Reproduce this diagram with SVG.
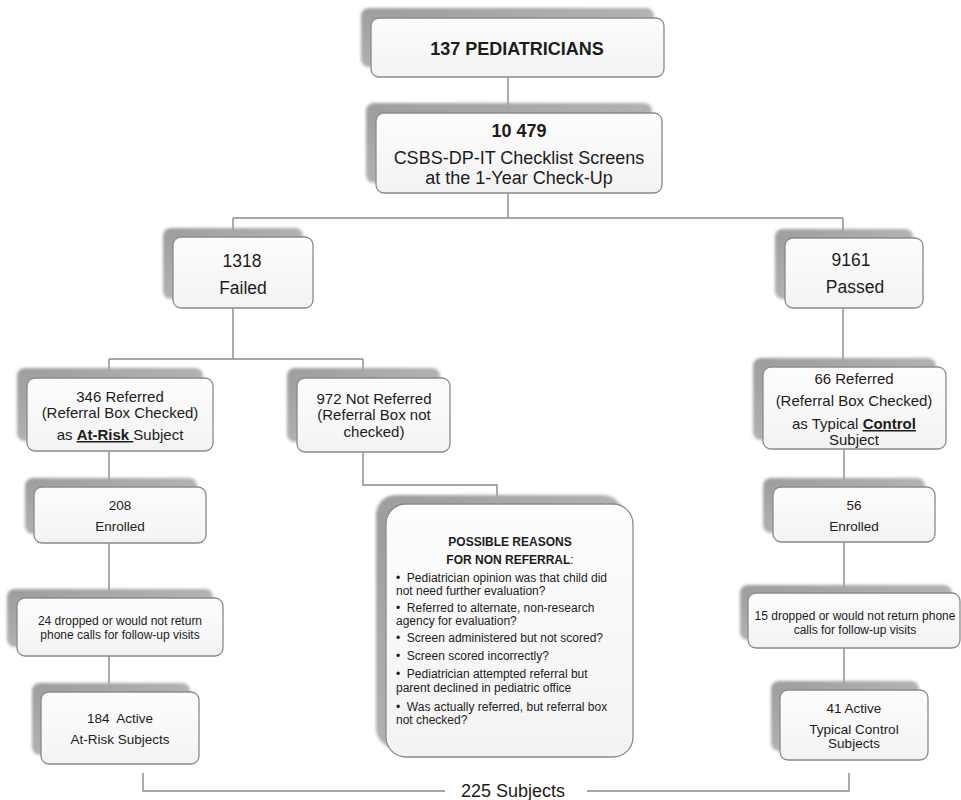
<svg xmlns="http://www.w3.org/2000/svg" width="961" height="800" viewBox="0 0 961 800">
<defs>
<linearGradient id="sg" x1="0" y1="0" x2="1" y2="1">
<stop offset="0" stop-color="#9c9c9c"/>
<stop offset="0.6" stop-color="#b4b4b4"/>
<stop offset="1" stop-color="#d6d6d6"/>
</linearGradient>
<linearGradient id="bg" x1="0" y1="0" x2="0" y2="1">
<stop offset="0" stop-color="#fdfdfd"/>
<stop offset="1" stop-color="#f3f3f3"/>
</linearGradient>
<filter id="blur" x="-10%" y="-10%" width="120%" height="120%">
<feGaussianBlur stdDeviation="1.5"/>
</filter>
</defs>
<style>
.sh{fill:url(#sg);filter:url(#blur);}
.bx{fill:url(#bg);stroke:#8a8a8a;stroke-width:1.3;}
.cn{fill:none;stroke:#8a8a8a;stroke-width:1.4;}
text{font-family:"Liberation Sans",Arial,sans-serif;fill:#1c1c1c;}
.c{text-anchor:middle;}
.b{font-weight:bold;}
.f18{font-size:18px;}
.f17{font-size:17.5px;}
.f15{font-size:15px;}
.f13{font-size:13.5px;}
.f12{font-size:12px;}
</style>
<rect width="961" height="800" fill="#ffffff"/>
<g id="connectors">
<path class="cn" d="M508,77 V113"/>
<path class="cn" d="M508,193 V218 M233,218 H843 M233,218 V237 M843,218 V238"/>
<path class="cn" d="M233,308 V359 M109,359 H363 M109,359 V378 M363,359 V378"/>
<path class="cn" d="M363,452 V485 H497 V504"/>
<path class="cn" d="M109,451 V487 M109,543 V598 M109,656 V692"/>
<path class="cn" d="M843,308 V367 M844,449 V487 M844,542 V593 M844,648 V690"/>
<path class="cn" d="M143,773 V791 H445 M587,791 H849 V773"/>
</g>
<g id="n-pediatricians">
<rect class="sh" x="361" y="8" width="293" height="59" rx="8"/>
<rect class="bx" x="371" y="18" width="293" height="59" rx="8"/>
<text class="c b f18" x="517" y="55">137 PEDIATRICIANS</text>
</g>
<g id="n-screens">
<rect class="sh" x="366" y="103" width="286" height="80" rx="8"/>
<rect class="bx" x="376" y="113" width="286" height="80" rx="8"/>
<text class="c b f18" x="519" y="137">10 479</text>
<text class="c f18" x="519" y="164">CSBS-DP-IT Checklist Screens</text>
<text class="c f18" x="519" y="184">at the 1-Year Check-Up</text>
</g>
<g id="n-failed">
<rect class="sh" x="163" y="228" width="140" height="71" rx="8"/>
<rect class="bx" x="173" y="237" width="140" height="71" rx="8"/>
<text class="c f17" x="242" y="267">1318</text>
<text class="c f17" x="243" y="294">Failed</text>
</g>
<g id="n-passed">
<rect class="sh" x="775" y="229" width="138" height="70" rx="8"/>
<rect class="bx" x="785" y="238" width="138" height="70" rx="8"/>
<text class="c f17" x="851" y="266">9161</text>
<text class="c f17" x="855" y="293">Passed</text>
</g>
<g id="n-referred346">
<rect class="sh" x="17" y="368" width="186" height="73" rx="8"/>
<rect class="bx" x="27" y="378" width="186" height="73" rx="8"/>
<text class="c f15" x="120" y="402">346 Referred</text>
<text class="c f15" x="120" y="418">(Referral Box Checked)</text>
<text class="c f15" x="120" y="440">as <tspan class="b" text-decoration="underline">At-Risk </tspan>Subject</text>
</g>
<g id="n-notreferred">
<rect class="sh" x="287" y="368" width="153" height="74" rx="8"/>
<rect class="bx" x="297" y="378" width="153" height="74" rx="8"/>
<text class="c f15" x="374" y="404">972 Not Referred</text>
<text class="c f15" x="374" y="420">(Referral Box not</text>
<text class="c f15" x="374" y="437">checked)</text>
</g>
<g id="n-referred66">
<rect class="sh" x="753" y="358" width="183" height="82" rx="8"/>
<rect class="bx" x="763" y="367" width="183" height="82" rx="8"/>
<text class="c f15" x="854" y="384">66 Referred</text>
<text class="c f15" x="854" y="406">(Referral Box Checked)</text>
<text class="c f15" x="854" y="429">as Typical <tspan class="b" text-decoration="underline">Control</tspan></text>
<text class="c f15" x="854" y="445">Subject</text>
</g>
<g id="n-enrolled208">
<rect class="sh" x="25" y="478" width="172" height="56" rx="8"/>
<rect class="bx" x="34" y="487" width="172" height="56" rx="8"/>
<text class="c f13" x="120" y="510">208</text>
<text class="c f13" x="120" y="531">Enrolled</text>
</g>
<g id="n-dropped24">
<rect class="sh" x="7" y="589" width="206" height="58" rx="8"/>
<rect class="bx" x="17" y="598" width="206" height="58" rx="8"/>
<text class="c f12" x="120" y="625">24 dropped or would not return</text>
<text class="c f12" x="120" y="639">phone calls for follow-up visits</text>
</g>
<g id="n-active184">
<rect class="sh" x="32" y="683" width="158" height="72" rx="8"/>
<rect class="bx" x="41" y="692" width="158" height="72" rx="8"/>
<text class="c f13" x="120" y="723" xml:space="preserve">184  Active</text>
<text class="c f13" x="120" y="744">At-Risk Subjects</text>
</g>
<g id="n-reasons">
<rect class="sh" x="376" y="495" width="247" height="253" rx="20"/>
<rect class="bx" x="386" y="504" width="247" height="253" rx="20"/>
<text class="c b f12" x="510" y="546">POSSIBLE REASONS</text>
<text class="c f12" x="510" y="564"><tspan class="b">FOR NON REFERRAL</tspan>:</text>
<text class="f12" x="396" y="582" xml:space="preserve">•  Pediatrician opinion was that child did</text>
<text class="f12" x="396" y="595">not need further evaluation?</text>
<text class="f12" x="396" y="612" xml:space="preserve">•  Referred to alternate, non-research</text>
<text class="f12" x="396" y="625">agency for evaluation?</text>
<text class="f12" x="396" y="642" xml:space="preserve">•  Screen administered but not scored?</text>
<text class="f12" x="396" y="660" xml:space="preserve">•  Screen scored incorrectly?</text>
<text class="f12" x="396" y="678" xml:space="preserve">•  Pediatrician attempted referral but</text>
<text class="f12" x="396" y="692">parent declined in pediatric office</text>
<text class="f12" x="396" y="711" xml:space="preserve">•  Was actually referred, but referral box</text>
<text class="f12" x="396" y="724">not checked?</text>
</g>
<g id="n-enrolled56">
<rect class="sh" x="763" y="478" width="162" height="55" rx="8"/>
<rect class="bx" x="773" y="487" width="162" height="55" rx="8"/>
<text class="c f13" x="854" y="510">56</text>
<text class="c f13" x="854" y="531">Enrolled</text>
</g>
<g id="n-dropped15">
<rect class="sh" x="740" y="585" width="212" height="55" rx="8"/>
<rect class="bx" x="748" y="593" width="212" height="55" rx="8"/>
<text class="c f12" x="855" y="620">15 dropped or would not return phone</text>
<text class="c f12" x="855" y="634">calls for follow-up visits</text>
</g>
<g id="n-active41">
<rect class="sh" x="771" y="681" width="148" height="70" rx="8"/>
<rect class="bx" x="780" y="690" width="148" height="70" rx="8"/>
<text class="c f13" x="854" y="713">41 Active</text>
<text class="c f13" x="854" y="734">Typical Control</text>
<text class="c f13" x="854" y="748">Subjects</text>
</g>
<g id="n-total">
<text class="c f18" x="513" y="797">225 Subjects</text>
</g>
</svg>
